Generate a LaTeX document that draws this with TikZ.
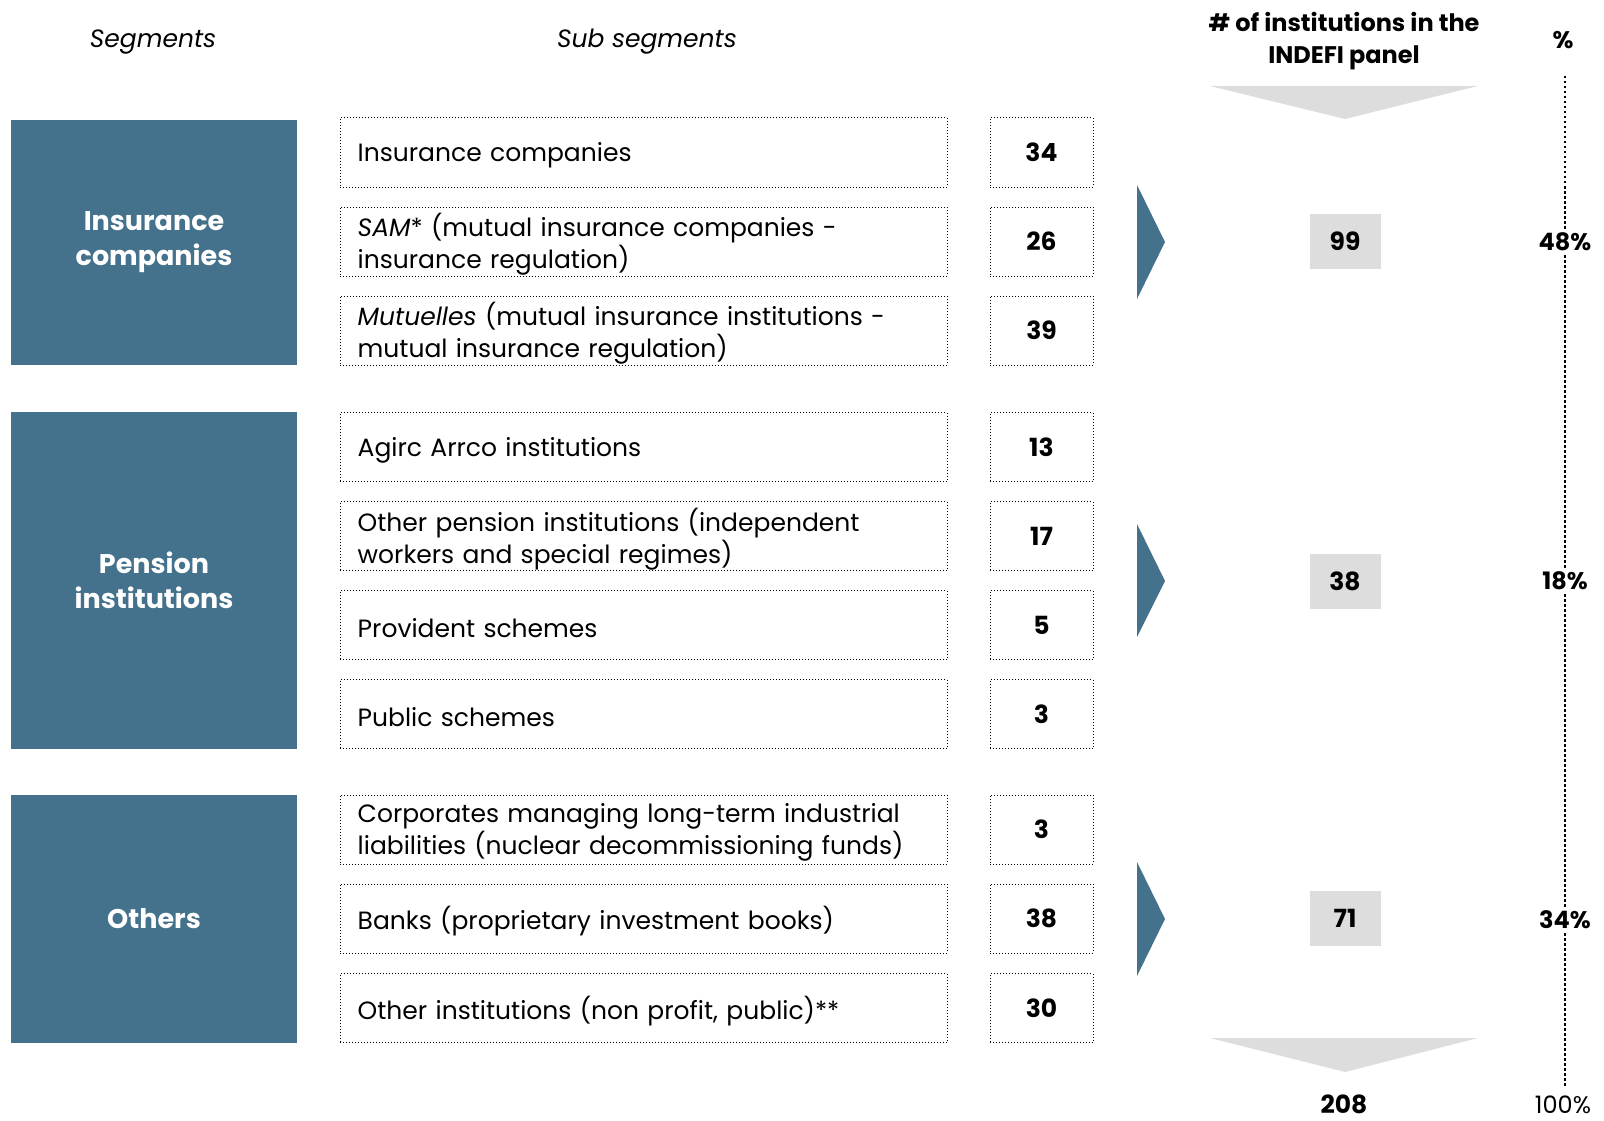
\documentclass[tikz,border=0pt]{standalone}
\usepackage{fontspec}
\setmainfont{Poppins}
\definecolor{segblue}{HTML}{44718C}
\definecolor{lgray}{HTML}{DDDDDD}
\begin{document}
\begin{tikzpicture}[x=1pt,y=-1pt,
  seg/.style={fill=segblue,draw=none,minimum width=286pt,minimum height=#1,text=white,font=\fontsize{27}{35}\selectfont\bfseries,align=center},
  subbox/.style={draw,dotted,line width=1pt,minimum height=69pt,minimum width=607pt,inner sep=0pt},
  subtxt/.style={anchor=west,text width=571pt,inner sep=0pt,align=left,yshift=-3pt,font=\fontsize{25}{32}\selectfont,execute at begin node={\lineskiplimit=-100pt}},
  num/.style={draw,dotted,line width=1pt,minimum height=69pt,minimum width=103pt,inner sep=0pt,font=\fontsize{25}{30}\selectfont\bfseries},
  tot/.style={fill=lgray,minimum width=71pt,minimum height=55pt,inner sep=0pt,font=\fontsize{25}{30}\selectfont\bfseries},
  pct/.style={inner sep=4pt,font=\fontsize{24}{30}\selectfont\bfseries},
  hdr/.style={font=\fontsize{25}{30}\selectfont\itshape},
  hdrb/.style={font=\fontsize{24}{32}\selectfont\bfseries,align=center},
  vline/.style={line width=2.5pt,dash pattern=on 2.5pt off 2.5pt}]
\useasboundingbox (0,0) rectangle (1604,1121);
% headers
\node[hdr] (hseg) at (153,42) {Segments};
\node[hdr] (hsub) at (647,42) {Sub segments};
\node[hdrb] (hnum) at (1344,41) {\# of institutions in the\\INDEFI panel};
\node[hdrb] (hpct) at (1563,40) {\%};
% segments
\node[seg=245pt] (s1) at (154,242.5) {Insurance\\companies};
\node[seg=337pt] (s2) at (154,580.5) {Pension\\institutions};
\node[seg=248pt] (s3) at (154,919) {Others};
% sub segment boxes
\node[subbox] (b1) at (643.5,152.5) {};
\node[subbox] (b2) at (643.5,241.5) {};
\node[subbox] (b3) at (643.5,330.5) {};
\node[subbox] (b4) at (643.5,447) {};
\node[subbox] (b5) at (643.5,536) {};
\node[subbox] (b6) at (643.5,625) {};
\node[subbox] (b7) at (643.5,714) {};
\node[subbox] (b8) at (643.5,829.5) {};
\node[subbox] (b9) at (643.5,918.5) {};
\node[subbox] (b10) at (643.5,1008) {};
% sub segment texts
\node[subtxt] (b1t) at ([xshift=18pt]b1.west) {Insurance companies};
\node[subtxt] (b2t) at ([xshift=18pt]b2.west) {\textit{SAM}* (mutual insurance companies -\\insurance regulation)};
\node[subtxt] (b3t) at ([xshift=18pt]b3.west) {\textit{Mutuelles} (mutual insurance institutions -\\mutual insurance regulation)};
\node[subtxt] (b4t) at ([xshift=18pt]b4.west) {Agirc Arrco institutions};
\node[subtxt] (b5t) at ([xshift=18pt]b5.west) {Other pension institutions (independent\\workers and special regimes)};
\node[subtxt] (b6t) at ([xshift=18pt]b6.west) {Provident schemes};
\node[subtxt] (b7t) at ([xshift=18pt]b7.west) {Public schemes};
\node[subtxt] (b8t) at ([xshift=18pt]b8.west) {Corporates managing long-term industrial\\liabilities (nuclear decommissioning funds)};
\node[subtxt] (b9t) at ([xshift=18pt]b9.west) {Banks (proprietary investment books)};
\node[subtxt] (b10t) at ([xshift=18pt]b10.west) {Other institutions (non profit, public)**};
% numbers
\node[num] (n1) at (1041.5,152.5) {34};
\node[num] (n2) at (1041.5,241.5) {26};
\node[num] (n3) at (1041.5,330.5) {39};
\node[num] (n4) at (1041.5,447) {13};
\node[num] (n5) at (1041.5,536) {17};
\node[num] (n6) at (1041.5,625) {5};
\node[num] (n7) at (1041.5,714) {3};
\node[num] (n8) at (1041.5,829.5) {3};
\node[num] (n9) at (1041.5,918.5) {38};
\node[num] (n10) at (1041.5,1008) {30};
% arrows
\fill[segblue] (1137,185) -- (1165,242) -- (1137,299) -- cycle;
\fill[segblue] (1137,524) -- (1165,581) -- (1137,637) -- cycle;
\fill[segblue] (1137,862) -- (1165,919) -- (1137,976) -- cycle;
\fill[lgray] (1210,86) -- (1478,86) -- (1345,119) -- cycle;
\fill[lgray] (1210,1038) -- (1478,1038) -- (1345,1072) -- cycle;
% totals
\node[tot] (t1) at (1345,241) {99};
\node[tot] (t2) at (1345,581) {38};
\node[tot] (t3) at (1345,918.5) {71};
\node[font=\fontsize{25}{30}\selectfont\bfseries] (t4) at (1344,1104) {208};
% percentages
\coordinate (ptop) at (1565,76);
\coordinate (pend) at (1565,1086);
\node[pct] (p1) at (1565,242) {48\%};
\node[pct] (p2) at (1565,581) {18\%};
\node[pct] (p3) at (1565,920) {34\%};
\node[font=\fontsize{24}{30}\selectfont] (p4) at (1563,1105) {100\%};
\draw[vline] (ptop) -- (p1);
\draw[vline] (p1) -- (p2);
\draw[vline] (p2) -- (p3);
\draw[vline] (p3) -- (pend);
\end{tikzpicture}
\end{document}
